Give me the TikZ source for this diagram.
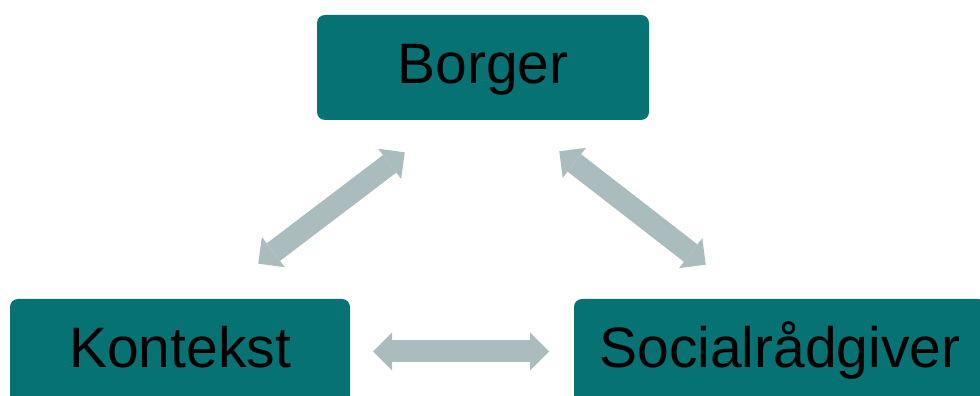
\documentclass[tikz,border=0pt]{standalone}
\usepackage{fontspec}
\setmainfont{Liberation Sans}
\usetikzlibrary{arrows.meta,positioning}
\definecolor{boxteal}{RGB}{7,114,115}
\definecolor{arrowgray}{RGB}{170,188,189}

\begin{document}
\begin{tikzpicture}[x=1pt,y=1pt,line width=22pt,>={Triangle[length=19pt,width=38pt,line width=0pt]}]
  \tikzstyle{box}=[fill=boxteal,draw=none,rounded corners=8pt,text=black,font=\fontsize{57}{62}\selectfont,minimum height=105pt,text height=43pt,text depth=11pt,inner sep=0pt]
  \tikzstyle{link}=[<->,draw=arrowgray]
  \useasboundingbox (0,0) rectangle (980,396);

  \node[box,minimum width=332pt] (borger) at (483,328.5) {Borger};
  \node[box,minimum width=340pt] (kontekst) at (180,44.5) {Kontekst};
  \node[box,minimum width=412pt] (social) at (780,44.5) {Socialrådgiver};

  \coordinate (bl) at ([shift={(-87,-28)}]borger.south);
  \coordinate (br) at ([shift={(85,-27)}]borger.south);
  \coordinate (kt) at ([shift={(87,31)}]kontekst.north);
  \coordinate (st) at ([shift={(-83,30)}]social.north);

  \draw[link,shorten <=-11pt,shorten >=-11pt] (kt) -- (bl);
  \draw[link,shorten <=-11pt,shorten >=-11pt] (br) -- (st);
  \draw[link,shorten <=12pt,shorten >=14pt] (kontekst.east) -- (social.west);
\end{tikzpicture}
\end{document}
